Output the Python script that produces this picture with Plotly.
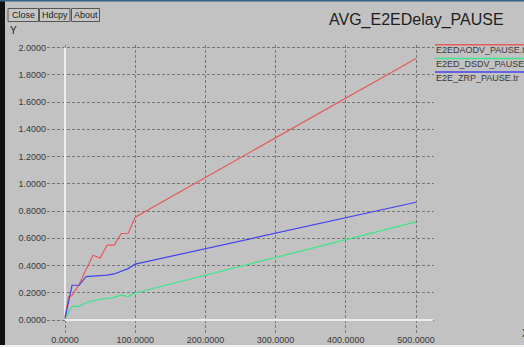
import plotly.graph_objects as go

# Average end-to-end delay versus pause time for three routing protocols
aodv_pause = [0, 5, 10, 20, 30, 40, 50, 60, 70, 80, 90, 100, 500]
aodv_delay = [0.02, 0.17, 0.18, 0.26, 0.37, 0.475, 0.455, 0.55, 0.55, 0.635, 0.635, 0.755, 1.92]

dsdv_pause = [0, 10, 20, 30, 40, 50, 60, 70, 80, 90, 100, 500]
dsdv_delay = [0.01, 0.10, 0.10, 0.127, 0.14, 0.152, 0.158, 0.166, 0.183, 0.172, 0.198, 0.72]

zrp_pause = [0, 10, 20, 30, 40, 50, 60, 70, 80, 90, 100, 500]
zrp_delay = [0.01, 0.255, 0.255, 0.318, 0.322, 0.325, 0.33, 0.338, 0.355, 0.377, 0.41, 0.864]

series_names = ["E2EDAODV_PAUSE.tr", "E2ED_DSDV_PAUSE.tr", "E2E_ZRP_PAUSE.tr"]
series_colors = ["#e65a5c", "#3de58c", "#4444ee"]

x_ticks = [0, 100, 200, 300, 400, 500]
y_ticks = [0.0, 0.2, 0.4, 0.6, 0.8, 1.0, 1.2, 1.4, 1.6, 1.8, 2.0]

W, H = 524, 347
L, R, T, B = 47, 434, 45, 333  # plot area in pixels

def px(x):
    return (x - L) / (R - L)

def py(y):
    return (B - y) / (B - T)

BG = "#c2c2c2"
FONT = "Liberation Sans, Arial, Helvetica, sans-serif"

fig = go.Figure()
for xs, ys, name, color in zip(
    [aodv_pause, dsdv_pause, zrp_pause],
    [aodv_delay, dsdv_delay, zrp_delay],
    series_names, series_colors,
):
    fig.add_trace(go.Scatter(x=xs, y=ys, mode="lines", name=name,
                             line=dict(color=color, width=1.2),
                             showlegend=False, hoverinfo="skip"))

# 0 at x=65px, 100 units per 70.2px; 0 at y=320px, 1 unit per 136.25px
x_scale = 70.2 / 100
y_scale = 136.25
x_range = [(L - 65) / x_scale, (R - 65) / x_scale]
y_range = [(320 - B) / y_scale, (320 - T) / y_scale]

grid = dict(showgrid=True, gridcolor="#787878", gridwidth=1, griddash="3px,2px",
            zeroline=False, showline=False, ticks="", automargin=False,
            tickfont=dict(family=FONT, size=9, color="#3a3a3a"))

fig.update_layout(
    template="none",
    width=W, height=H, autosize=False,
    margin=dict(l=L, r=W - R, t=T, b=H - B, pad=0),
    paper_bgcolor=BG, plot_bgcolor=BG,
    xaxis=dict(range=x_range, tickvals=x_ticks,
               ticktext=[f"{v:.4f}" for v in x_ticks], **grid),
    yaxis=dict(range=y_range, tickvals=y_ticks,
               ticktext=[f"{v:.4f}" for v in y_ticks], ticklabelstandoff=0, **grid),
)

shapes = []
# white axis lines through the origin, drawn between the grid and the data
shapes.append(dict(type="line", xref="x", yref="y", x0=0, x1=x_range[1] * 0.997, y0=0, y1=0,
                   line=dict(color="#ececec", width=2), layer="between"))
shapes.append(dict(type="line", xref="x", yref="y", x0=0, x1=0, y0=0, y1=2.0,
                   line=dict(color="#ececec", width=2), layer="between"))

# window frame
shapes.append(dict(type="rect", xref="paper", yref="paper", x0=px(0), x1=px(5), y0=py(H), y1=py(0),
                   fillcolor="#111111", line=dict(width=0)))
shapes.append(dict(type="rect", xref="paper", yref="paper", x0=px(0), x1=px(W), y0=py(1.5), y1=py(0),
                   fillcolor="#35608a", line=dict(width=0)))
shapes.append(dict(type="rect", xref="paper", yref="paper", x0=px(0), x1=px(W), y0=py(H), y1=py(H - 2),
                   fillcolor="#f0f0f0", line=dict(width=0)))

annotations = []
# buttons
for label, x0, x1 in [("Close", 8, 38.5), ("Hdcpy", 39.5, 70), ("About", 71.5, 99.5)]:
    shapes.append(dict(type="rect", xref="paper", yref="paper", x0=px(x0), x1=px(x1),
                       y0=py(21.5), y1=py(8.5), fillcolor="#c6c6c6",
                       line=dict(color="#555555", width=1)))
    annotations.append(dict(text=label, xref="paper", yref="paper", x=px((x0 + x1) / 2), y=py(15),
                            showarrow=False, xanchor="center", yanchor="middle",
                            font=dict(family=FONT, size=9, color="#222222")))

annotations.append(dict(text="Y", xref="paper", yref="paper", x=px(8), y=py(30),
                        showarrow=False, xanchor="left", yanchor="middle",
                        font=dict(family=FONT, size=10, color="#222222")))
annotations.append(dict(text="AVG_E2EDelay_PAUSE", xref="paper", yref="paper", x=px(416.5), y=py(20),
                        showarrow=False, xanchor="center", yanchor="middle",
                        font=dict(family=FONT, size=16, color="#1e1e1e")))
annotations.append(dict(text="X", xref="paper", yref="paper", x=px(520), y=py(333),
                        showarrow=False, xanchor="left", yanchor="middle",
                        font=dict(family=FONT, size=10, color="#222222")))

# legend: colored rule above each series name
for i, (name, color) in enumerate(zip(series_names, series_colors)):
    ly = 44.7 + i * 13.7
    shapes.append(dict(type="line", xref="paper", yref="paper", x0=px(435), x1=px(W + 5),
                       y0=py(ly), y1=py(ly), line=dict(color=color, width=1.5)))
    annotations.append(dict(text=name, xref="paper", yref="paper", x=px(434), y=py(ly + 5.5),
                            showarrow=False, xanchor="left", yanchor="middle",
                            font=dict(family=FONT, size=9, color="#3a3a3a")))

fig.update_layout(shapes=shapes, annotations=annotations)
fig.write_html("out.html")
